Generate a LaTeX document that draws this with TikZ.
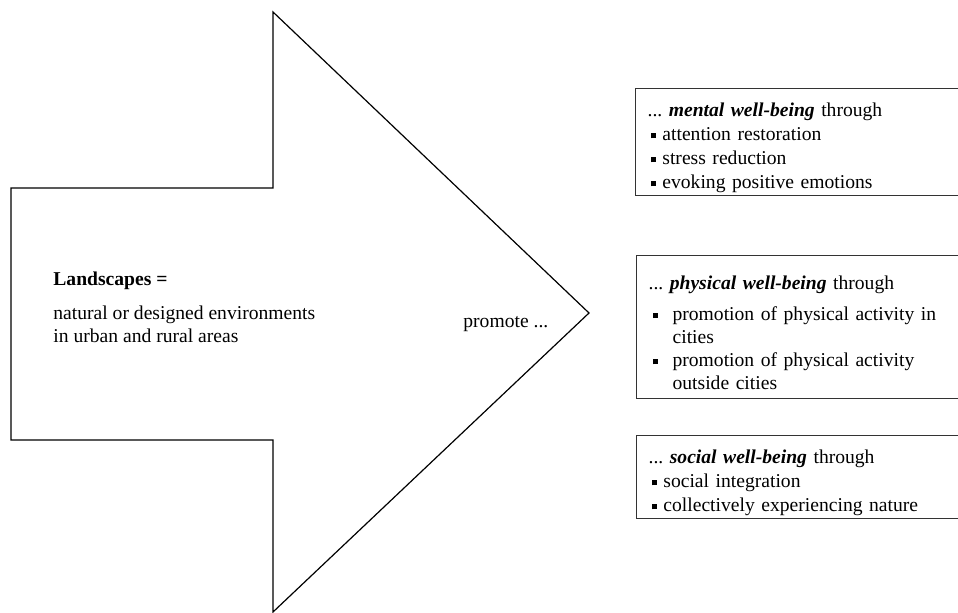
\documentclass[tikz,border=0pt]{standalone}
\usepackage{fontspec}
\setmainfont{Liberation Serif}
\tikzstyle{ArrowShape}=[draw=black, line width=0.6pt, line join=miter]
\tikzstyle{WellBox}=[rectangle, draw=black!80, line width=0.6pt, anchor=north west, text width=170pt, align=left, inner xsep=6pt, inner ysep=0pt, font=\fontsize{9.8}{12}\selectfont]
\tikzstyle{PlainText}=[anchor=base west, inner sep=0pt, font=\fontsize{9.8}{12}\selectfont]
\newcommand{\sqbullet}{\raisebox{1.1pt}{\rule{2.6pt}{2.6pt}}}
\newcommand{\boxhead}[1]{\rule{0pt}{12.5pt}...\ \textbf{\textit{#1}} through}
\newcommand{\shortitem}[1]{\par\hspace*{1.8pt}\sqbullet\hspace{3pt}#1}
\newcommand{\longitem}[2]{\par\makebox[12pt][l]{\hspace*{2pt}\sqbullet}#1\par\hspace*{12pt}#2}

\begin{document}
\begin{tikzpicture}[x=0.5pt, y=-0.5pt]
\useasboundingbox (0,0) rectangle (958,613);
\clip (0,0) rectangle (958,613);

% big arrow
\draw[ArrowShape] (11,188) -- (273,188) -- (273,12) -- (589,313) -- (273,612) -- (273,440) -- (11,440) -- cycle;

\node[PlainText](land) at (53,286) {\textbf{Landscapes =}};
\node[PlainText](nat) at (53,320) {natural or designed environments};
\node[PlainText](urb) at (53,343) {in urban and rural areas};
\node[PlainText](prom) at (463,328) {promote ...};

% well-being boxes
\node[WellBox, minimum height=53.5pt](mental) at (635,88) {%
\boxhead{mental well-being}
\shortitem{attention restoration}
\shortitem{stress reduction}
\shortitem{evoking positive emotions}};

\node[WellBox, minimum height=71.5pt, font=\fontsize{9.8}{11.6}\selectfont](physical) at (636,255) {%
\boxhead{physical well-being}\par\vspace{4pt}
\longitem{promotion of physical activity in}{cities}
\longitem{promotion of physical activity}{outside cities}};

\node[WellBox, minimum height=41.5pt](social) at (636,435) {%
\boxhead{social well-being}
\shortitem{social integration}
\shortitem{collectively experiencing nature}};
\end{tikzpicture}
\end{document}
